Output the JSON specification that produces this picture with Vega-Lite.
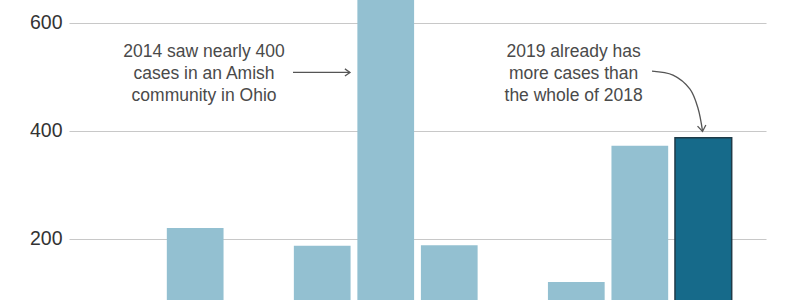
{
  "$schema": "https://vega.github.io/schema/vega-lite/v6.json",
  "width": 697,
  "height": 300,
  "autosize": {"type": "none"},
  "padding": {"left": 69, "right": 26, "top": 0, "bottom": 0},
  "background": "white",
  "config": {
    "view": {"stroke": null},
    "font": "Liberation Sans"
  },
  "datasets": {
    "cases": [
      {"year": 2010, "cases": 63},
      {"year": 2011, "cases": 220},
      {"year": 2012, "cases": 55},
      {"year": 2013, "cases": 187},
      {"year": 2014, "cases": 667},
      {"year": 2015, "cases": 188},
      {"year": 2016, "cases": 86},
      {"year": 2017, "cases": 120},
      {"year": 2018, "cases": 372},
      {"year": 2019, "cases": 387}
    ],
    "notes": [
      {"x": 2011.14, "y": 536, "label": "2014 saw nearly 400\ncases in an Amish\ncommunity in Ohio"},
      {"x": 2016.96, "y": 536, "label": "2019 already has\nmore cases than\nthe whole of 2018"}
    ],
    "straight": [
      {"x": 2012.541, "y": 507.7},
      {"x": 2013.4386, "y": 507.7}
    ],
    "curve": [
      {"x": 2018.1945, "y": 510.1},
      {"x": 2018.5252, "y": 502.7},
      {"x": 2018.7929, "y": 476.7},
      {"x": 2018.9189, "y": 441.5},
      {"x": 2018.9898, "y": 399.5}
    ],
    "tipRight": [{"x": 2013.4386, "y": 507.7}],
    "tipDown": [{"x": 2018.99, "y": 398.5}]
  },
  "layer": [
    {
      "data": {"name": "cases"},
      "mark": {"type": "bar", "clip": true, "strokeWidth": 1.5},
      "encoding": {
        "x": {
          "field": "year", "type": "ordinal",
          "scale": {"paddingInner": 0.107, "paddingOuter": 0.54},
          "axis": null
        },
        "y": {
          "field": "cases", "type": "quantitative",
          "scale": {"domain": [86.8, 641.7], "nice": false, "zero": false},
          "axis": {
            "values": [200, 400, 600],
            "title": null,
            "domain": false,
            "ticks": false,
            "grid": true,
            "gridColor": "#c8c8c8",
            "gridWidth": 1.2,
            "labelFontSize": 19.5,
            "labelColor": "#333333",
            "labelPadding": 7,
            "labelFont": "Liberation Sans"
          }
        },
        "color": {
          "condition": {"test": "datum.year === 2019", "value": "#166a8a"},
          "value": "#93c0d1"
        },
        "stroke": {
          "condition": {"test": "datum.year === 2019", "value": "#1f3b48"},
          "value": null
        }
      }
    },
    {
      "data": {"name": "notes"},
      "mark": {
        "type": "text", "align": "center", "baseline": "alphabetic",
        "lineBreak": "\n", "lineHeight": 21.8, "fontSize": 17.5,
        "font": "Liberation Sans", "color": "#4a4a4a"
      },
      "encoding": {
        "x": {"field": "x", "type": "quantitative", "scale": {"domain": [2009.0134, 2019.9898], "nice": false, "zero": false}, "axis": null},
        "y": {"field": "y", "type": "quantitative"},
        "text": {"field": "label"}
      }
    },
    {
      "data": {"name": "straight"},
      "mark": {"type": "line", "color": "#555555", "strokeWidth": 1.3},
      "encoding": {
        "x": {"field": "x", "type": "quantitative", "scale": {"domain": [2009.0134, 2019.9898], "nice": false, "zero": false}, "axis": null},
        "y": {"field": "y", "type": "quantitative"}
      }
    },
    {
      "data": {"name": "curve"},
      "mark": {"type": "line", "color": "#555555", "strokeWidth": 1.3, "interpolate": "catmull-rom"},
      "encoding": {
        "x": {"field": "x", "type": "quantitative", "scale": {"domain": [2009.0134, 2019.9898], "nice": false, "zero": false}, "axis": null},
        "y": {"field": "y", "type": "quantitative"}
      }
    },
    {
      "data": {"name": "tipRight"},
      "mark": {"type": "point", "shape": "M-1.7,-1.2L0,0L-1.7,1.2", "size": 36, "filled": false, "color": "#555555", "strokeWidth": 1.3, "opacity": 1},
      "encoding": {
        "x": {"field": "x", "type": "quantitative", "scale": {"domain": [2009.0134, 2019.9898], "nice": false, "zero": false}, "axis": null},
        "y": {"field": "y", "type": "quantitative"}
      }
    },
    {
      "data": {"name": "tipDown"},
      "mark": {"type": "point", "shape": "M-1.7,-1.2L0,0L-1.7,1.2", "size": 49, "angle": 82, "filled": false, "color": "#555555", "strokeWidth": 1.3, "opacity": 1},
      "encoding": {
        "x": {"field": "x", "type": "quantitative", "scale": {"domain": [2009.0134, 2019.9898], "nice": false, "zero": false}, "axis": null},
        "y": {"field": "y", "type": "quantitative"}
      }
    }
  ],
  "resolve": {"scale": {"x": "independent"}}
}
